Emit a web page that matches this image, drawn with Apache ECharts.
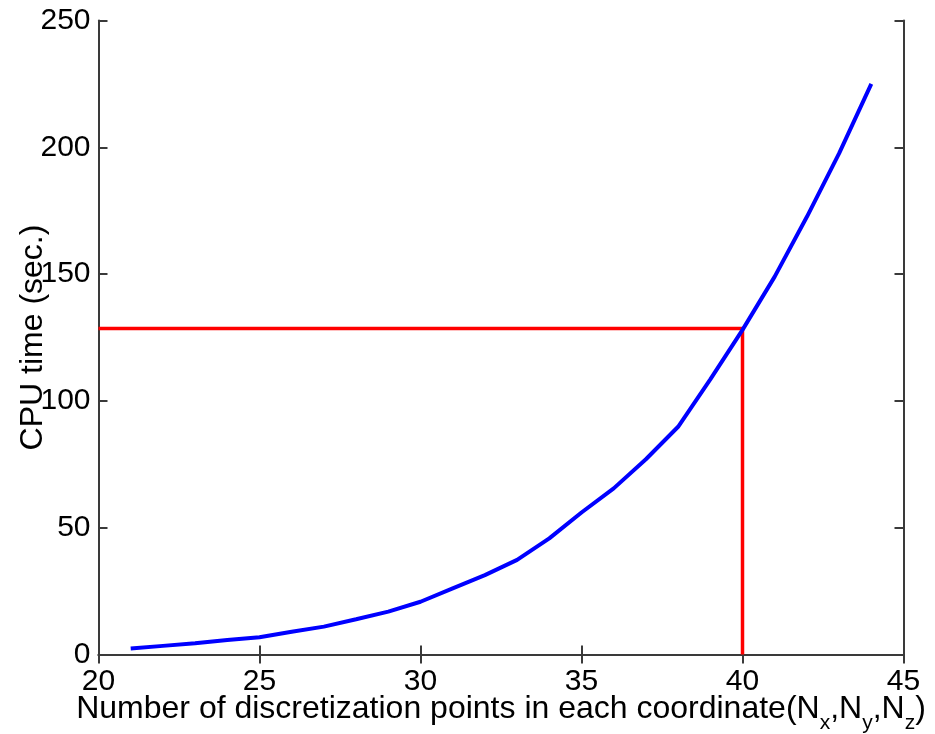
<!DOCTYPE html>
<html>
<head>
<meta charset="utf-8">
<script src="https://cdn.jsdelivr.net/npm/echarts@6/dist/echarts.min.js"></script>
<style>
  html, body { margin: 0; padding: 0; background: #ffffff; }
  #chart { width: 935px; height: 734px; }
</style>
</head>
<body>
<div id="chart"></div>
<script>
// Grid size per coordinate and measured CPU time (seconds)
const gridPoints = [21, 22, 23, 24, 25, 26, 27, 28, 29, 30, 31, 32,
                    33, 34, 35, 36, 37, 38, 39, 40, 41, 42, 43, 44];
const cpuTime = [2.4, 3.4, 4.4, 5.7, 6.8, 9.0, 11.0, 13.9, 16.9, 20.8, 26.1, 31.3,
                 37.3, 45.8, 56.0, 65.5, 77.0, 89.8, 108.5, 128.0, 149.0, 172.6, 197.6, 225.0];

// Reference point highlighted in red
const markerX = 40;
const markerY = 128.5;

// Axis ranges and tick labels
const xTicks = [20, 25, 30, 35, 40, 45];
const yTicks = [0, 50, 100, 150, 200, 250];

const FONT = "'Liberation Sans', Arial, sans-serif";
const FRAME = '#3a3a3a';

const curve = gridPoints.map((n, i) => [n, cpuTime[i]]);
const marker = [[xTicks[0], markerY], [markerX, markerY], [markerX, yTicks[0]]];

const tickStyle = { show: true, inside: true, length: 9, lineStyle: { color: FRAME, width: 2 } };

function xAxisBase(extra) {
  return Object.assign({
    type: 'value',
    min: xTicks[0],
    max: xTicks[xTicks.length - 1],
    interval: xTicks[1] - xTicks[0],
    splitLine: { show: false },
    axisLine: { show: true, lineStyle: { color: FRAME, width: 2 } },
    axisTick: tickStyle
  }, extra);
}
function yAxisBase(extra) {
  return Object.assign({
    type: 'value',
    min: yTicks[0],
    max: yTicks[yTicks.length - 1],
    interval: yTicks[1] - yTicks[0],
    splitLine: { show: false },
    axisLine: { show: true, lineStyle: { color: FRAME, width: 2 } },
    axisTick: tickStyle
  }, extra);
}

const chart = echarts.init(document.getElementById('chart'), null, { renderer: 'canvas' });

chart.setOption({
  backgroundColor: '#ffffff',
  animation: false,
  grid: {
    left: 98.5, right: 31.5, top: 20.5, bottom: 79.5,
    show: false, containLabel: false, outerBoundsMode: 'none'
  },
  xAxis: [
    xAxisBase({
      position: 'bottom',
      axisLabel: { color: '#000', fontSize: 30, fontFamily: FONT, margin: 12 },
      // axis title with subscripted N_x, N_y, N_z
      name: '{b|Number of discretization points in each coordinate(N}{s|x}{b|,N}{s|y}{b|,N}{s|z}{b|)}',
      nameLocation: 'middle',
      nameGap: 38.5,
      nameMoveOverlap: false,
      nameTextStyle: {
        rich: {
          b: { fontSize: 32, fontFamily: FONT, color: '#000', lineHeight: 32, verticalAlign: 'top' },
          s: { fontSize: 21, fontFamily: FONT, color: '#000', lineHeight: 21, verticalAlign: 'top', padding: [20, 0, 0, 0] }
        }
      }
    }),
    xAxisBase({ position: 'top', axisLabel: { show: false } })
  ],
  yAxis: [
    yAxisBase({
      position: 'left',
      axisLabel: { color: '#000', fontSize: 30, fontFamily: FONT, margin: 8 },
      name: 'CPU time (sec.)',
      nameLocation: 'middle',
      nameGap: 49,
      nameMoveOverlap: false,
      nameTextStyle: { color: '#000', fontSize: 32, fontFamily: FONT }
    }),
    yAxisBase({ position: 'right', axisLabel: { show: false } })
  ],
  series: [
    {
      name: 'reference',
      type: 'line',
      data: marker,
      symbol: 'none',
      lineStyle: { color: '#ff0000', width: 3.5 },
      z: 2
    },
    {
      name: 'CPU time',
      type: 'line',
      data: curve,
      symbol: 'none',
      lineStyle: { color: '#0000ff', width: 4 },
      z: 3
    }
  ]
});
</script>
</body>
</html>
